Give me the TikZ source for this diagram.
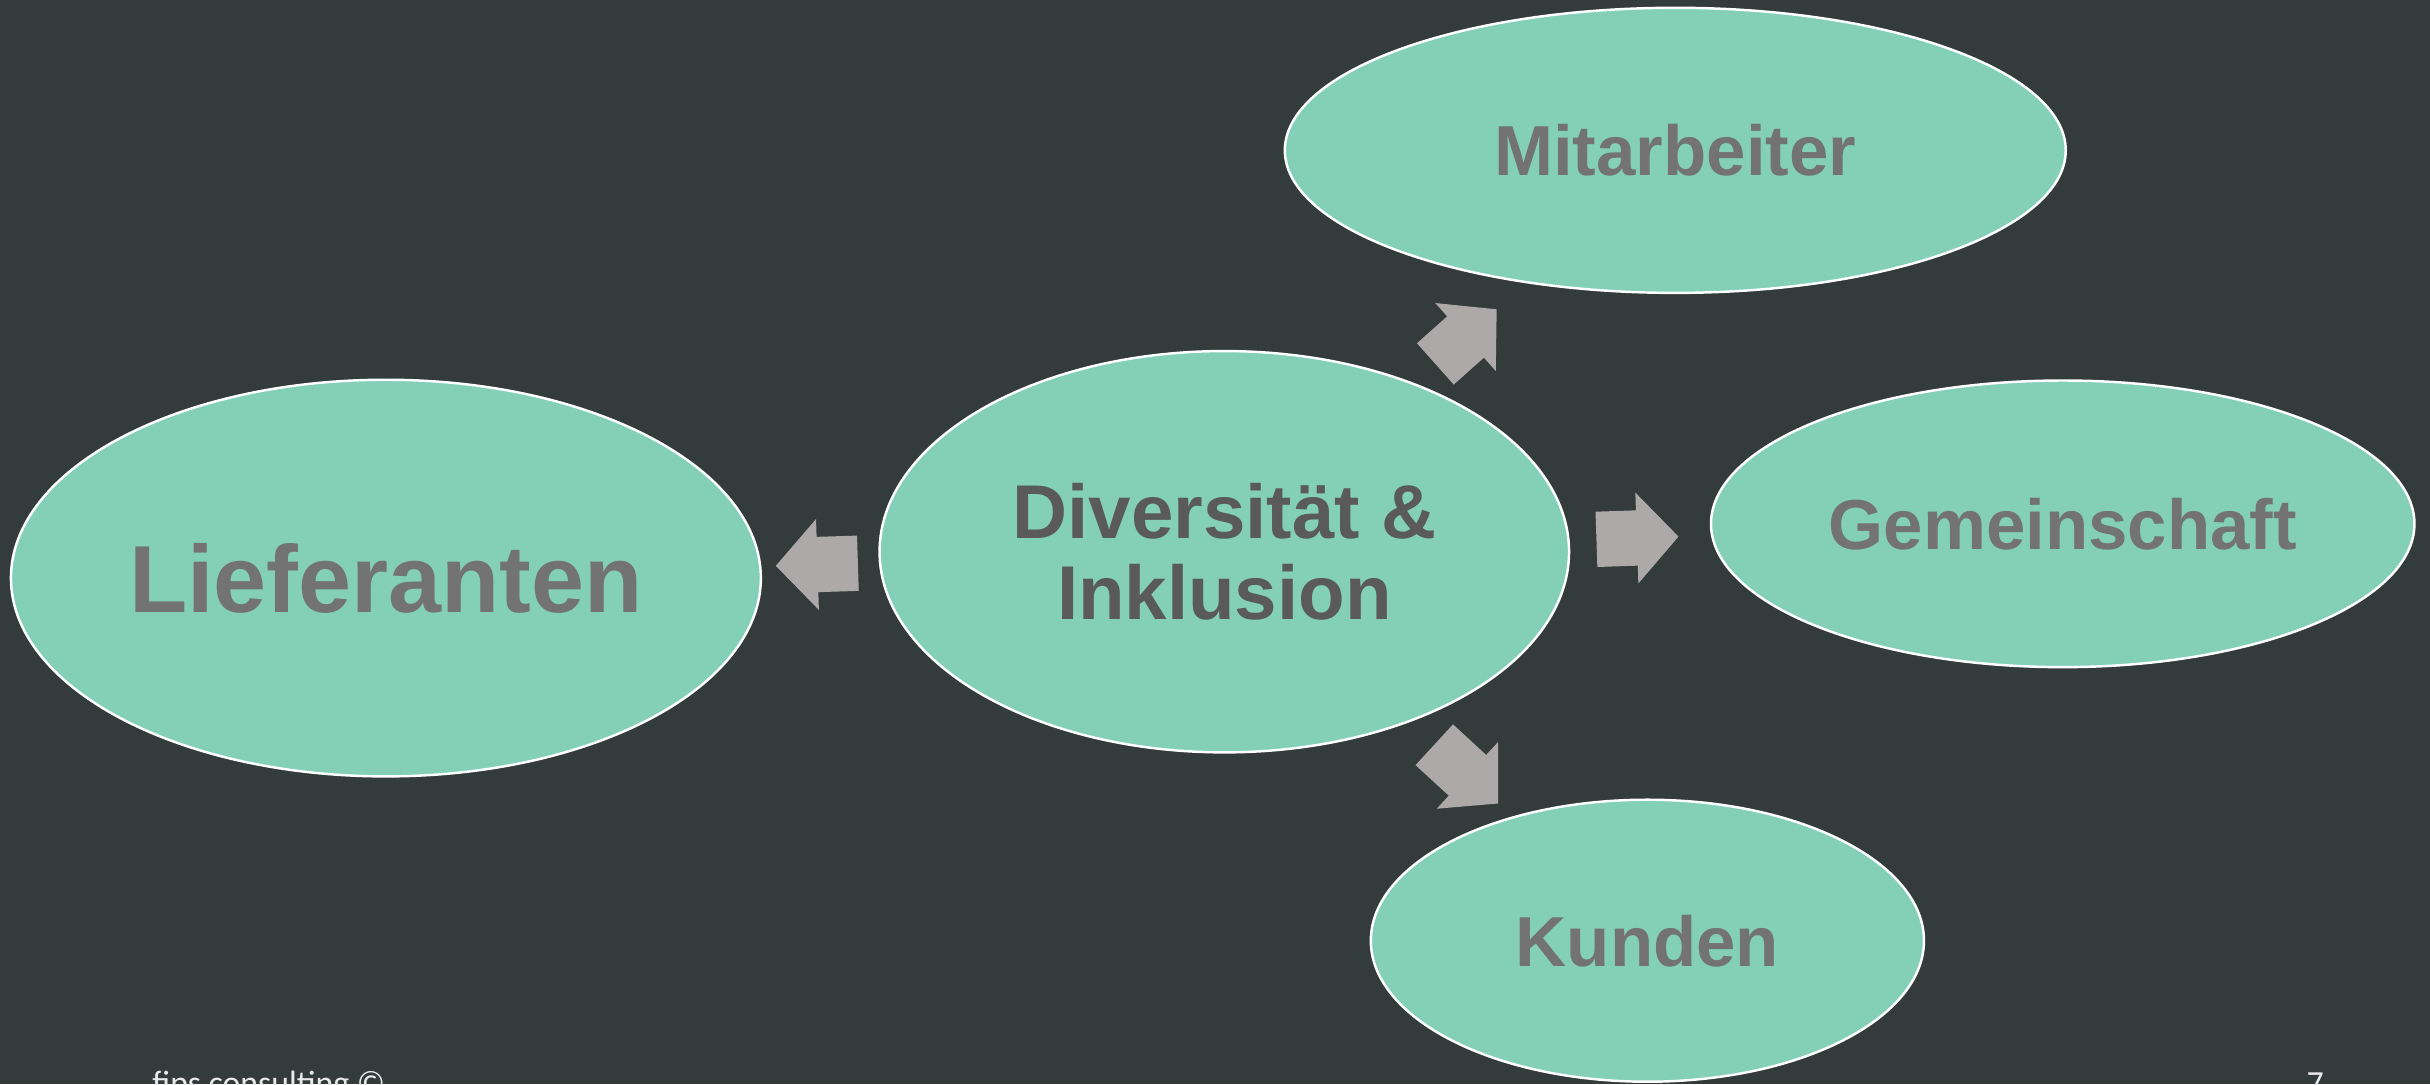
\documentclass[tikz,border=0pt]{standalone}
\usepackage{fontspec}
\setmainfont{Liberation Sans}
\newfontfamily\footfont{Carlito}
\usetikzlibrary{shapes.geometric,shapes.arrows}

\definecolor{bgdark}{HTML}{343B3B}
\definecolor{mint}{HTML}{83D0B7}
\definecolor{greytext}{HTML}{737373}
\definecolor{darktext}{HTML}{5A5A5A}
\definecolor{arrowgrey}{HTML}{ADA9A8}
\definecolor{foottext}{HTML}{EAEAEA}

\begin{document}
\begin{tikzpicture}[x=0.02cm, y=-0.02cm,
    blob/.style={ellipse, fill=mint, draw=white, line width=0.9pt, text=greytext,
        font=\bfseries\fontsize{26}{28}\selectfont, inner sep=0pt},
    blockarrow/.style={single arrow, fill=arrowgrey, draw=none, inner xsep=0pt,
        inner ysep=0.35cm, minimum height=1.06cm, single arrow head extend=0.23cm,
        single arrow tip angle=95, sloped, allow upside down},
    foot/.style={anchor=base west, inner sep=0pt, text=foottext,
        font=\footfont\fontsize{12.4}{14}\selectfont}]
    % Hintergrund
    \fill[bgdark] (0,0) rectangle (1568,699.5);
    \useasboundingbox (0,0) rectangle (1568,699.5);

    % Ellipsen zeichnen
    \node[blob, minimum width=9.68cm, minimum height=5.12cm,
        font=\bfseries\fontsize{35}{38}\selectfont] (lief) at (249,373) {Lieferanten};
    \node[blob, minimum width=8.9cm, minimum height=5.18cm, text=darktext, align=center,
        font=\bfseries\fontsize{28}{29.5}\selectfont] (div) at (790,356) {Diversität \&\\Inklusion};
    \node[blob, minimum width=10.08cm, minimum height=3.68cm] (mit) at (1081,97) {Mitarbeiter};
    \node[blob, minimum width=9.08cm, minimum height=3.7cm] (gem) at (1331,338) {Gemeinschaft};
    \node[blob, minimum width=7.14cm, minimum height=3.64cm] (kun) at (1063,607) {Kunden};

    % Pfeile
    \path (div) -- (lief) node[blockarrow, pos=0.42] (p1) {};
    \path (div) -- (mit) node[blockarrow, pos=0.38] (p2) {};
    \path (div) -- (gem) node[blockarrow, pos=0.39] (p3) {};
    \path (div) -- (kun) node[blockarrow, pos=0.46, minimum height=1.12cm] (p4) {};

    % Fusszeile
    \node[foot] (firma) at (98,706) {fips consulting ©};
    \node[foot] (seite) at (1488,706) {7};
\end{tikzpicture}
\end{document}
